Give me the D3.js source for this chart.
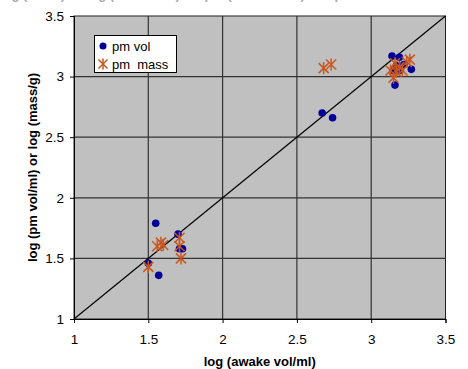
<!DOCTYPE html>
<html>
<head>
<meta charset="utf-8">
<script src="https://cdn.jsdelivr.net/npm/d3@7"></script>
<style>
body { margin: 0; background: #fff; }
svg { font-family: "Liberation Sans", Arial, sans-serif; }
</style>
</head>
<body>
<script>
// pm vol points (log awake vol/ml, log pm vol/ml)
var volX = [1.55, 1.70, 1.71, 1.73, 1.50, 1.57, 2.67, 2.74, 3.14, 3.19, 3.15, 3.19, 3.27, 3.16, 3.22, 3.17];
var volY = [1.79, 1.70, 1.58, 1.58, 1.46, 1.36, 2.70, 2.66, 3.17, 3.16, 3.05, 3.05, 3.06, 2.93, 3.10, 3.09];

// pm mass points (log awake vol/ml, log mass/g)
var massX = [1.56, 1.585, 1.60, 1.71, 1.71, 1.72, 1.50, 2.68, 2.73, 3.16, 3.19, 3.24, 3.26, 3.17, 3.15, 3.21, 3.13];
var massY = [1.60, 1.63, 1.61, 1.67, 1.60, 1.50, 1.43, 3.07, 3.10, 3.11, 3.08, 3.12, 3.14, 3.04, 2.99, 3.05, 3.05];

var ticks = [1, 1.5, 2, 2.5, 3, 3.5];
var seriesNames = ["pm vol", "pm  mass"];

var width = 468, height = 369;
var plotLeft = 74, plotRight = 445.5, plotTop = 16, plotBottom = 319;

var svg = d3.select("body").append("svg").attr("width", width).attr("height", height);

var x = d3.scaleLinear().domain([1, 3.5]).range([plotLeft, plotRight]);
var y = d3.scaleLinear().domain([1, 3.5]).range([plotBottom, plotTop]);

// title, mostly cut off at the top edge as in the reference
svg.append("text").attr("x", 0).attr("y", -1).attr("fill", "#aaa")
    .style("font-size", "13px").style("font-weight", "bold")
    .text("log (mass) vs log (awake vol) for pm (mass & vol) samples");

svg.append("rect").attr("x", plotLeft).attr("y", plotTop).attr("width", plotRight - plotLeft).attr("height", plotBottom - plotTop)
    .attr("fill", "#c0c0c0");

var grid = svg.append("g");
grid.selectAll("line.v").data(ticks.slice(1, -1)).enter().append("line")
    .attr("x1", function(d){return x(d);}).attr("x2", function(d){return x(d);})
    .attr("y1", plotTop).attr("y2", plotBottom).attr("stroke", "#333").attr("stroke-width", 1.2);
grid.selectAll("line.h").data(ticks.slice(1, -1)).enter().append("line")
    .attr("y1", function(d){return y(d);}).attr("y2", function(d){return y(d);})
    .attr("x1", plotLeft).attr("x2", plotRight).attr("stroke", "#333").attr("stroke-width", 1.2);

svg.append("rect").attr("x", plotLeft).attr("y", plotTop).attr("width", plotRight - plotLeft).attr("height", plotBottom - plotTop)
    .attr("fill", "none").attr("stroke", "#222").attr("stroke-width", 1);

// diagonal y = x
svg.append("line").attr("x1", x(1)).attr("y1", y(1)).attr("x2", x(3.5)).attr("y2", y(3.5))
    .attr("stroke", "#000").attr("stroke-width", 1.2);

var xAxis = d3.axisBottom(x).tickValues(ticks).tickSize(4).tickPadding(11).tickFormat(d3.format("~g"));
var yAxis = d3.axisLeft(y).tickValues(ticks).tickSize(4).tickPadding(6).tickFormat(d3.format("~g"));

var gx = svg.append("g").attr("transform", "translate(0," + plotBottom + ")").call(xAxis);
var gy = svg.append("g").attr("transform", "translate(" + plotLeft + ",0)").call(yAxis);
[gx, gy].forEach(function(g){
    g.select(".domain").attr("stroke", "#000");
    g.selectAll("text").style("font-size", "13.5px").attr("fill", "#000");
    g.selectAll("line").attr("stroke", "#000");
});

svg.append("text").attr("x", (plotLeft + plotRight) / 2).attr("y", 366).attr("text-anchor", "middle")
    .style("font-size", "13px").style("font-weight", "bold").text("log (awake vol/ml)");
svg.append("text").attr("transform", "translate(37," + ((plotTop + plotBottom) / 2) + ") rotate(-90)")
    .attr("text-anchor", "middle").style("font-size", "13px").style("font-weight", "bold")
    .text("log (pm vol/ml) or log (mass/g)");

var orange = "#c8561e", navy = "#000099";

function star(g, cx, cy, r) {
    var a = [[-r, -r, r, r], [-r, r, r, -r], [0, -r * 1.2, 0, r * 1.2]];
    a.forEach(function(s){
        g.append("line").attr("x1", cx + s[0]).attr("y1", cy + s[1]).attr("x2", cx + s[2]).attr("y2", cy + s[3])
            .attr("stroke", orange).attr("stroke-width", 1.5);
    });
}

svg.append("g").selectAll("circle").data(volX).enter().append("circle")
    .attr("cx", function(d){return x(d);})
    .attr("cy", function(d, i){return y(volY[i]);})
    .attr("r", 3.8).attr("fill", navy);

var gm = svg.append("g");
massX.forEach(function(d, i){ star(gm, x(d), y(massY[i]), 5); });

// legend
var lg = svg.append("g");
lg.append("rect").attr("x", 94.5).attr("y", 35.5).attr("width", 82).attr("height", 37)
    .attr("fill", "#fff").attr("stroke", "#000");
lg.append("circle").attr("cx", 103).attr("cy", 46).attr("r", 3.5).attr("fill", navy);
star(lg, 103, 64, 4.5);
lg.append("text").attr("x", 112).attr("y", 51).style("font-size", "13px").style("white-space", "pre").text(seriesNames[0]);
lg.append("text").attr("x", 112).attr("y", 69).style("font-size", "13px").style("white-space", "pre").text(seriesNames[1]);
</script>
</body>
</html>
